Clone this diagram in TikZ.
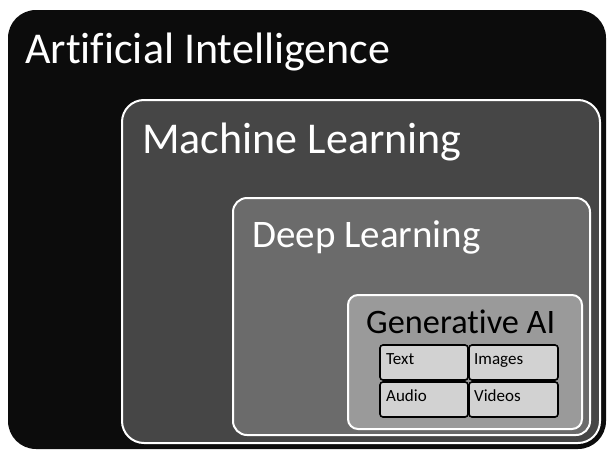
\documentclass[tikz,border=0pt]{standalone}
\usepackage{fontspec}
\setmainfont[Ligatures=NoCommon]{Carlito}
\definecolor{aiC}{HTML}{0C0C0C}
\definecolor{mlC}{HTML}{464646}
\definecolor{dlC}{HTML}{6B6B6B}
\definecolor{gaC}{HTML}{9A9A9A}
\definecolor{smC}{HTML}{D2D2D2}
\begin{document}
\begin{tikzpicture}[x=1pt,y=-1pt,
  area/.style={anchor=north west, inner sep=0pt, outer sep=0pt},
  lvl/.style={area, draw=white, line width=2pt},
  title/.style={anchor=base west, inner sep=0pt, text=white},
  cell/.style={area, draw=black, line width=1.6pt, fill=smC, rounded corners=3pt,
    minimum width=88pt, minimum height=35pt},
  celltext/.style={anchor=base west, inner sep=0pt, font=\fontsize{17}{19}\selectfont}]
\fill[white] (0,0) rectangle (607,450);
\useasboundingbox (0,0) rectangle (607,450);
\node[area, fill=aiC, rounded corners=28pt, minimum width=598pt, minimum height=439pt] (ai) at (8,10) {};
\node[lvl, fill=mlC, rounded corners=22pt, minimum width=478pt, minimum height=343pt] (ml) at (122,100) {};
\node[lvl, fill=dlC, rounded corners=14pt, minimum width=357pt, minimum height=237pt] (dl) at (233,198) {};
\node[lvl, fill=gaC, rounded corners=10pt, minimum width=234pt, minimum height=134pt] (ga) at (348,295) {};
\node[title, font=\fontsize{44}{48}\selectfont] (tai) at (25,63) {Artificial Intelligence};
\node[title, font=\fontsize{44}{48}\selectfont] (tml) at (142,153) {Machine Learning};
\node[title, font=\fontsize{39}{42}\selectfont] (tdl) at (252,247) {Deep Learning};
\node[title, text=black, font=\fontsize{34.3}{38}\selectfont] (tga) at (366,333) {Generative AI};
\node[cell] (ctext) at (380,345) {};
\node[cell, minimum width=89pt] (cimg) at (469,345) {};
\node[cell] (caud) at (380,382) {};
\node[cell, minimum width=89pt] (cvid) at (469,382) {};
\node[celltext] (ttext) at (386,364) {Text};
\node[celltext] (timg) at (474,364) {Images};
\node[celltext] (taud) at (386,401) {Audio};
\node[celltext] (tvid) at (474,401) {Videos};
\end{tikzpicture}
\end{document}
